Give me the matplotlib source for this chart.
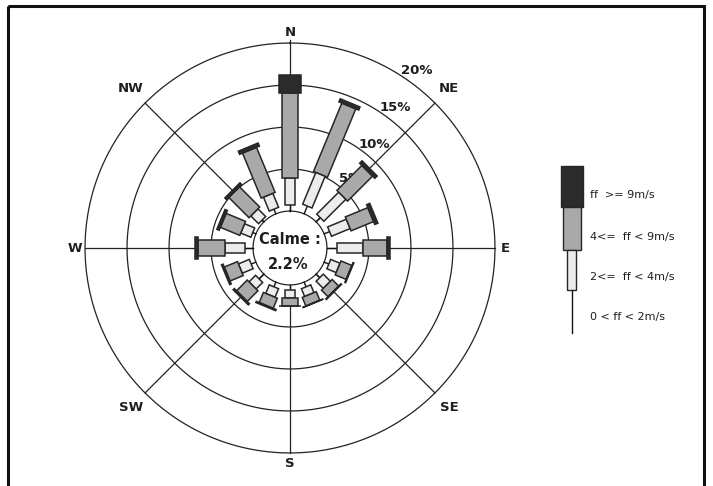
import numpy as np
import matplotlib
matplotlib.use("Agg")
import matplotlib.pyplot as plt
from matplotlib.patches import Polygon, Rectangle

plt.rcParams['font.family'] = ['DejaVu Sans']

# 16 wind sectors, clockwise from north
sectors = ["N", "NNE", "NE", "ENE", "E", "ESE", "SE", "SSE",
           "S", "SSW", "SW", "WSW", "W", "WNW", "NW", "NNW"]
sector_deg = np.arange(len(sectors)) * 22.5

# frequency (%) of each wind-speed class per sector
ff_0_2 = [0.7, 1.0, 0.7, 0.7, 1.2, 0.6, 0.6, 0.6, 0.6, 0.6, 0.8, 0.6, 1.0, 0.4, 0.3, 0.6]
ff_2_4 = [3.2, 4.1, 3.7, 2.4, 3.1, 1.2, 1.2, 1.0, 0.9, 1.1, 1.1, 1.4, 2.3, 1.3, 1.3, 1.8]
ff_4_9 = [10.1, 8.8, 4.2, 2.9, 2.9, 1.4, 1.1, 1.1, 1.0, 1.3, 1.8, 1.7, 3.3, 2.5, 3.4, 5.8]
ff_9p = [2.2, 0.4, 0.4, 0.4, 0.3, 0.1, 0.1, 0.05, 0.05, 0.15, 0.2, 0.2, 0.3, 0.3, 0.3, 0.4]
calm_pct = 2.2

ring_pct = [5, 10, 15, 20]
ring_labels = ["5%", "10%", "15%", "20%"]
compass = ["N", "NE", "E", "SE", "S", "SW", "W", "NW"]
compass_deg = [0, 45, 90, 135, 180, 225, 270, 315]

legend_labels = ["ff  >= 9m/s", "4<=  ff < 9m/s", "2<=  ff < 4m/s", "0 < ff < 2m/s"]

R0 = 4.4            # radius of the calm circle (0 %)
W_LIGHT, W_MID, W_DARK = 1.2, 1.8, 2.55
C_LIGHT, C_MID, C_DARK = "#ececec", "#a9a9a9", "#2b2b2b"
EDGE = "#262626"
INK = "#1e1e1e"
ring_label_deg = [41, 39, 37, 35.5]

W, H = 713, 486
fig = plt.figure(figsize=(W / 100, H / 100), dpi=100)
fig.patch.set_facecolor("white")

# page overlay in pixel units: frame + legend
pg = fig.add_axes([0, 0, 1, 1])
pg.set_xlim(0, W)
pg.set_ylim(H, 0)
pg.axis("off")
pg.add_patch(Rectangle((8, 6), 696, 500, fill=False, lw=2.2, ec="#111"))

# rose axes in percent units, centred on the calm circle
L = 26.0
scale = 8.4
cx, cy = 290, 248
half = L * scale
ax = fig.add_axes([(cx - half) / W, (H - cy - half) / H, 2 * half / W, 2 * half / H])
ax.set_xlim(-L, L)
ax.set_ylim(-L, L)
ax.axis("off")


def pol(r, deg):
    t = np.deg2rad(deg)
    return r * np.sin(t), r * np.cos(t)


def seg(deg, r0, r1, w, fc, z):
    t = np.deg2rad(deg)
    u = np.array([np.sin(t), np.cos(t)])
    v = np.array([np.cos(t), -np.sin(t)])
    pts = [r0 * u + w / 2 * v, r1 * u + w / 2 * v, r1 * u - w / 2 * v, r0 * u - w / 2 * v]
    ax.add_patch(Polygon(pts, closed=True, fc=fc, ec=EDGE, lw=1.1, zorder=z))


# rings and spokes
th = np.linspace(0, 2 * np.pi, 400)
for p in [0] + ring_pct:
    ax.plot((R0 + p) * np.sin(th), (R0 + p) * np.cos(th), color="#222", lw=0.9, zorder=1)
for d in compass_deg:
    x0, y0 = pol(R0, d)
    x1, y1 = pol(R0 + ring_pct[-1] + (0.4 if d == 0 else 0), d)
    ax.plot([x0, x1], [y0, y1], color="#222", lw=0.9, zorder=1)

for p, lab, deg in zip(ring_pct, ring_labels, ring_label_deg):
    x, y = pol(R0 + p + 1.5, deg)
    ax.text(x, y, lab, ha="center", va="center", fontsize=9.5, fontweight="bold",
            color=INK, zorder=1.5)

for d, lab in zip(compass_deg, compass):
    r = 25.6 if d % 90 == 0 else 26.8
    x, y = pol(r, d)
    ax.text(x, y, lab, ha="center", va="center", fontsize=9.5, fontweight="bold", color=INK)

# stacked sector bars
for d, a, b, c, e in zip(sector_deg, ff_0_2, ff_2_4, ff_4_9, ff_9p):
    r1 = R0 + a
    r2 = r1 + b
    r3 = r2 + c
    r4 = r3 + e
    x0, y0 = pol(R0, d)
    x1, y1 = pol(r1, d)
    ax.plot([x0, x1], [y0, y1], color="#111", lw=1.0, zorder=3)
    seg(d, r1, r2, W_LIGHT, C_LIGHT, 3)
    seg(d, r2, r3, W_MID, C_MID, 3)
    seg(d, r3, r4, W_DARK, C_DARK, 3)

ax.text(0, 1.07, "Calme :", ha="center", va="center", fontsize=10.5, fontweight="bold", color=INK)
ax.text(-0.2, -2.0, f"{calm_pct}%", ha="center", va="center", fontsize=10.5, fontweight="bold", color=INK)

# legend
pg.add_patch(Rectangle((561, 166), 22, 41, fc=C_DARK, ec=EDGE, lw=1.0))
pg.add_patch(Rectangle((563, 207), 18, 43, fc=C_MID, ec=EDGE, lw=1.0))
pg.add_patch(Rectangle((567, 250), 9, 40, fc=C_LIGHT, ec=EDGE, lw=1.0))
pg.plot([571.5, 571.5], [290, 333], color="#111", lw=1.0)
for y, lab in zip([195, 237, 277, 317], legend_labels):
    pg.text(590, y, lab, ha="left", va="center", fontsize=8, color=INK)

fig.savefig("out.png", dpi=100)
